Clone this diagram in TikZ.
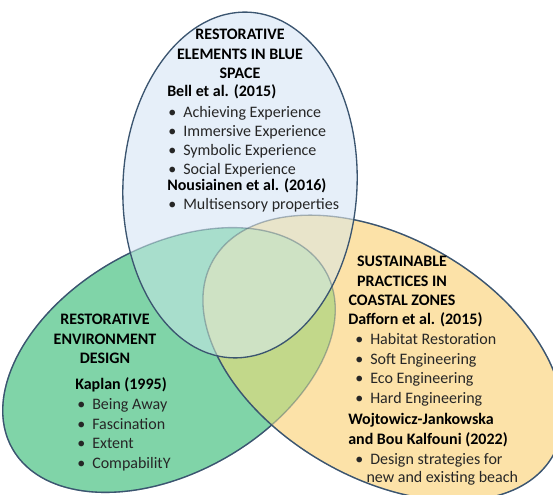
\documentclass[tikz,border=0pt]{standalone}
\usepackage{fontspec}
\setmainfont{Carlito}
\usepackage{xcolor}
\definecolor{bluefill}{HTML}{E6EFF9}
\definecolor{greenfill}{HTML}{80D4A8}
\definecolor{yellowfill}{HTML}{FCE2A8}
\definecolor{bgfill}{HTML}{A8DECC}
\definecolor{gyfill}{HTML}{C2D88A}
\definecolor{byfill}{HTML}{E8E4CA}
\definecolor{allfill}{HTML}{CEE2C4}
\definecolor{rim}{HTML}{3B5570}
\definecolor{ink}{HTML}{262626}
\newcommand{\bul}{\makebox[11.25pt][l]{\textbullet}}
% the three sets
\newcommand{\greenset}{(169,135) ellipse (180 and 113)}
\newcommand{\yellowset}{(383,137) ellipse (196 and 120)}
\newcommand{\blueset}{(240,310) ellipse (117 and 173)}
\newcommand{\everything}{(-400,-400) rectangle (1000,1000)}
\tikzset{
  greenrot/.style={rotate around={29.5:(169,135)}},
  yellowrot/.style={rotate around={-30:(383,137)}},
  bluerot/.style={rotate around={-3:(240,310)}},
}

\begin{document}
\begin{tikzpicture}[x=0.75pt, y=0.75pt,
    every node/.style={inner sep=0pt, text=ink, font=\fontsize{12}{14.4}\selectfont},
    venn/.style={draw=rim, line width=1pt},
    faded/.style={draw=rim, draw opacity=0.4, line width=1pt},
    title/.style={font=\fontsize{12}{14.4}\selectfont\bfseries, align=center, text=black},
    ref/.style={font=\fontsize{12}{14.4}\selectfont\bfseries, anchor=base west, text=black},
    item/.style={anchor=base west}]
    \useasboundingbox (0,0) rectangle (553,495);

    % plain fills
    \fill[greenfill, greenrot] \greenset;
    \fill[yellowfill, yellowrot] \yellowset;
    \fill[bluefill, bluerot] \blueset;
    % overlaps
    \begin{scope}
      \clip[greenrot] \greenset;
      \fill[gyfill, yellowrot] \yellowset;
      \fill[bgfill, bluerot] \blueset;
    \end{scope}
    \begin{scope}
      \clip[yellowrot] \yellowset;
      \fill[byfill, bluerot] \blueset;
      \clip[greenrot] \greenset;
      \fill[allfill, bluerot] \blueset;
    \end{scope}

    % outlines, light where covered by another set
    \draw[faded, greenrot] \greenset;
    \draw[faded, yellowrot] \yellowset;
    \begin{scope}[even odd rule]
      \clip[yellowrot] \everything \yellowset;
      \clip[bluerot] \everything \blueset;
      \draw[venn, greenrot] \greenset;
    \end{scope}
    \begin{scope}[even odd rule]
      \clip[bluerot] \everything \blueset;
      \draw[venn, yellowrot] \yellowset;
    \end{scope}
    \draw[venn, bluerot] \blueset;

    % blue space
    \node[title] (blueTitle) at (240,441) {RESTORATIVE\\ELEMENTS IN BLUE\\SPACE};
    \node[ref] (bell) at (167,398) {Bell et al. (2015)};
    \foreach \t [count=\i] in {Achieving Experience, Immersive Experience, Symbolic Experience, Social Experience}
      \node[item] (bell\i) at (168,{377-19*(\i-1)}) {\bul\t};
    \node[ref] (nous) at (167,304) {Nousiainen et al. (2016)};
    \node[item] (nous1) at (168,285) {\bul Multisensory properties};

    % restorative environment
    \node[title] (greenTitle) at (105,156) {RESTORATIVE\\ENVIRONMENT\\DESIGN};
    \node[ref] (kaplan) at (75,105) {Kaplan (1995)};
    \foreach \t [count=\i] in {Being Away, Fascination, Extent, CompabilitY}
      \node[item] (kaplan\i) at (77,{85-19.5*(\i-1)}) {\bul\t};

    % coastal zones
    \node[title] (yellowTitle) at (402,214) {SUSTAINABLE\\PRACTICES IN\\COASTAL ZONES};
    \node[ref] (dafforn) at (348,170) {Dafforn et al. (2015)};
    \foreach \t [count=\i] in {Habitat Restoration, Soft Engineering, Eco Engineering, Hard Engineering}
      \node[item] (dafforn\i) at (355,{150-19.5*(\i-1)}) {\bul\t};
    \node[ref] (wojt) at (348,70) {Wojtowicz-Jankowska};
    \node[ref] (wojtb) at (348,50) {and Bou Kalfouni (2022)};
    \node[item] (wojt1) at (355,30) {\bul Design strategies for};
    \node[item] (wojt2) at (366.25,12) {new and existing beach};
\end{tikzpicture}
\end{document}
